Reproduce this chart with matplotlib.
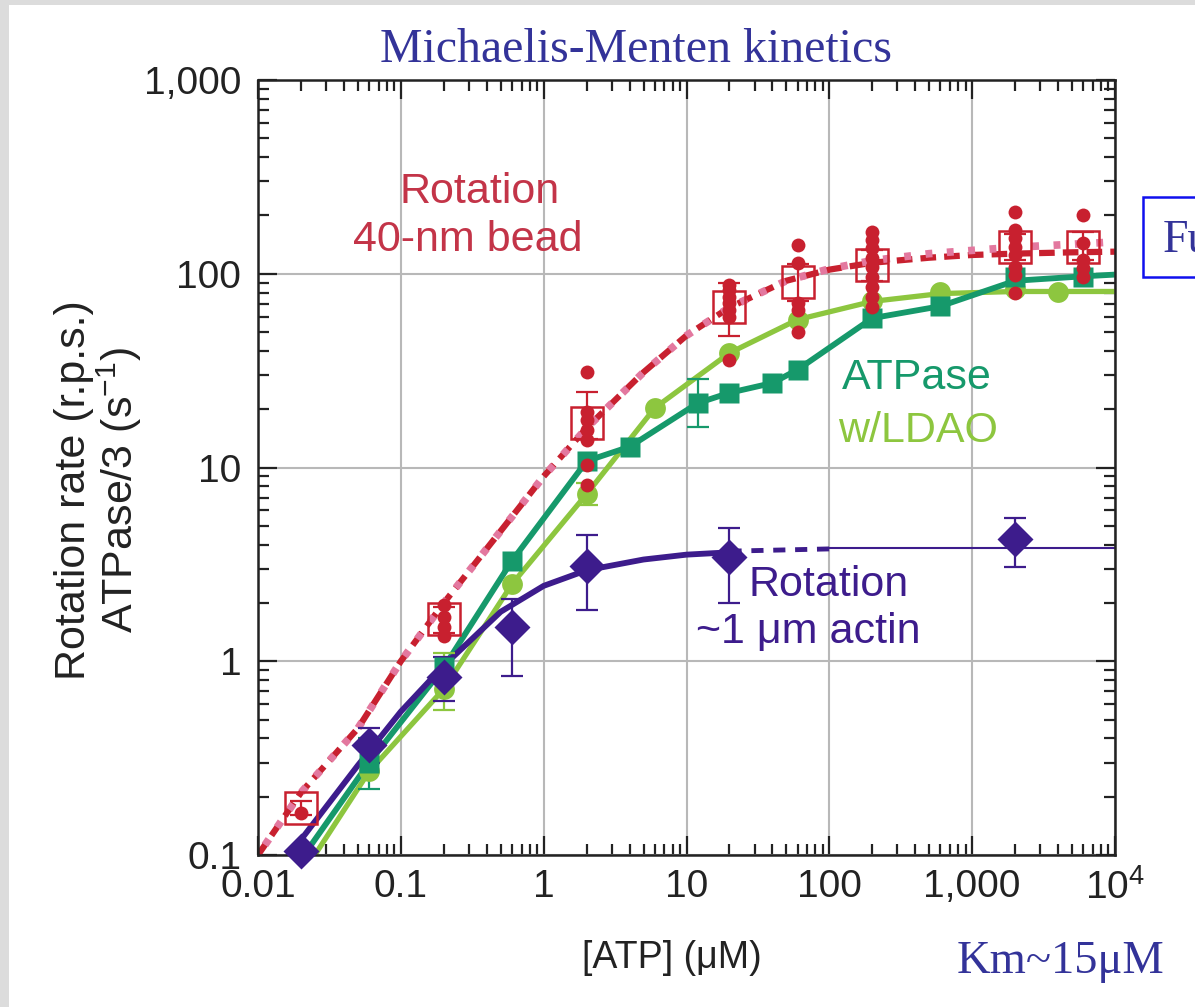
import matplotlib
matplotlib.use("Agg")
import matplotlib.pyplot as plt
from matplotlib.patches import Rectangle
from matplotlib.ticker import LogLocator, FixedLocator, FixedFormatter, NullFormatter

plt.rcParams["font.family"] = ["Liberation Sans", "DejaVu Sans"]
plt.rcParams["mathtext.fontset"] = "custom"
plt.rcParams["mathtext.rm"] = "Liberation Sans"
plt.rcParams["mathtext.default"] = "regular"

# ---- data ----
# rotation of 40-nm bead: individual runs (dots) and means (open squares)
bead_conc = [0.02, 0.2, 2, 20, 60, 200, 2000, 6000]
bead_mean = [0.175, 1.65, 17, 67, 91, 111, 137, 137]
bead_err_lo = [0.16, 1.4, 14, 48, 72, 92, 118, 118]
bead_err_hi = [0.19, 1.9, 24.5, 90, 112, 132, 160, 165]
bead_runs = [
    [0.165],
    [1.95, 1.7, 1.5, 1.35],
    [31, 19.3, 17.6, 15.6, 13.9, 10.3, 8.1],
    [87, 82, 76, 71, 65, 60, 36],
    [141, 113, 71, 65, 50],
    [164, 149, 136, 121, 108, 96, 85, 76, 67],
    [208, 168, 153, 137, 125, 108, 99, 80],
    [201, 144, 118, 107, 96],
]
bead_fit_x = [0.01, 0.02, 0.05, 0.1, 0.2, 0.5, 1, 2, 5, 10, 20, 50, 100, 200, 500, 1000, 2000, 5000, 10000]
bead_fit_y = [0.1, 0.21, 0.45, 1.0, 2.0, 4.7, 9.0, 16, 31, 48, 67, 92, 105, 114, 121, 125, 127, 129, 130]
bead_fit2_y = [0.1, 0.21, 0.45, 1.0, 2.0, 4.7, 9.0, 16, 31, 48, 67, 92, 106, 117, 127, 132, 137, 142, 146]

# ATPase
atp_conc = [0.06, 0.2, 0.6, 2, 4, 12, 20, 40, 60, 200, 600, 2000, 6000]
atp_rate = [0.3, 0.93, 3.3, 10.8, 12.8, 21.5, 24.3, 27.3, 32, 59, 68, 96, 96]
atp_line_x = [0.02, 0.06, 0.2, 0.6, 2, 4, 12, 20, 40, 60, 200, 600, 2000, 6000, 10000]
atp_line_y = [0.095, 0.3, 0.93, 3.3, 10.8, 12.8, 21.5, 24.3, 27.3, 32, 59, 68, 92, 97, 99]
atp_err_conc = [0.06, 12]
atp_err_mid = [0.3, 21.5]
atp_err_lo = [0.22, 16.2]
atp_err_hi = [0.4, 28.5]

# ATPase with LDAO
ldao_conc = [0.06, 0.2, 0.6, 2, 6, 20, 60, 200, 600, 2000, 4000]
ldao_rate = [0.27, 0.72, 2.5, 7.3, 20.3, 39, 58, 72, 80.5, 83, 80.5]
ldao_line_x = [0.025, 0.06, 0.2, 0.6, 2, 6, 20, 60, 200, 600, 2000, 4000, 10000]
ldao_line_y = [0.1, 0.27, 0.72, 2.5, 7.3, 20.3, 39, 58, 72, 79, 81, 81, 81]
ldao_err_conc = [0.2, 2]
ldao_err_mid = [0.72, 7.3]
ldao_err_lo = [0.56, 6.4]
ldao_err_hi = [1.1, 8.3]

# rotation of ~1 um actin filament
actin_conc = [0.02, 0.06, 0.2, 0.6, 2, 20, 2000]
actin_rate = [0.105, 0.37, 0.83, 1.5, 3.1, 3.45, 4.3]
actin_err_lo = [0.1, 0.3, 0.62, 0.84, 1.84, 2.0, 3.06]
actin_err_hi = [0.11, 0.45, 1.05, 2.1, 4.5, 4.9, 5.5]
actin_fit_x = [0.015, 0.02, 0.05, 0.1, 0.2, 0.5, 1, 2, 5, 10, 20]
actin_fit_y = [0.09, 0.12, 0.29, 0.55, 0.95, 1.8, 2.45, 2.95, 3.35, 3.55, 3.65]
actin_dash_x = [20, 100]
actin_dash_y = [3.7, 3.8]
actin_flat_x = [100, 10000]
actin_flat_y = [3.85, 3.85]

x_ticks = [0.01, 0.1, 1, 10, 100, 1000, 10000]
x_ticklabels = ["0.01", "0.1", "1", "10", "100", "1,000", "$10^4$"]
y_ticks = [0.1, 1, 10, 100, 1000]
y_ticklabels = ["0.1", "1", "10", "100", "1,000"]

RED = "#c8202f"
PINK = "#e3789f"
DGREEN = "#16996b"
LGREEN = "#8dc63f"
PURPLE = "#3d1c8c"
BLUE = "#333399"

W, H = 1195, 1007


def px(x, y):
    return x / W, 1 - y / H


def yerr(mid, lo, hi):
    return [[m - a for m, a in zip(mid, lo)], [b - m for m, b in zip(mid, hi)]]


fig = plt.figure(figsize=(W / 100, H / 100), dpi=100)
fig.patch.set_facecolor("#dcdcdc")
fig.add_artist(Rectangle((9 / W, 0), 1, 1 - 5 / H, transform=fig.transFigure,
                         facecolor="white", edgecolor="none", zorder=-10))

l, b = px(258, 855)
r, t = px(1115, 80)
ax = fig.add_axes([l, b, r - l, t - b])
ax.set_xscale("log")
ax.set_yscale("log")
ax.set_xlim(0.01, 10000)
ax.set_ylim(0.1, 1000)

# curves
ax.plot(bead_fit_x, bead_fit_y, color=RED, lw=4.5, ls=(0, (2.5, 1.3)), zorder=2)
ax.plot(bead_fit_x, bead_fit2_y, color=PINK, lw=5.5, ls=(1.2, (0.9, 1.9)), zorder=2.1)
ax.plot(ldao_line_x, ldao_line_y, color=LGREEN, lw=3.8, zorder=2)
ax.plot(atp_line_x, atp_line_y, color=DGREEN, lw=4.2, zorder=2.2)
ax.plot(actin_fit_x, actin_fit_y, color=PURPLE, lw=4.2, zorder=2.3)
ax.plot(actin_dash_x, actin_dash_y, color=PURPLE, lw=3.5, ls=(0, (2.5, 2)), zorder=2.3)
ax.plot(actin_flat_x, actin_flat_y, color=PURPLE, lw=1.5, zorder=2.3)

# error bars
eb = dict(fmt="none", elinewidth=1.6, capsize=8, capthick=1.6, zorder=3)
ax.errorbar(atp_err_conc, atp_err_mid, yerr=yerr(atp_err_mid, atp_err_lo, atp_err_hi),
            ecolor=DGREEN, **eb)
ax.errorbar(ldao_err_conc, ldao_err_mid, yerr=yerr(ldao_err_mid, ldao_err_lo, ldao_err_hi),
            ecolor=LGREEN, **eb)
ax.errorbar(actin_conc, actin_rate, yerr=yerr(actin_rate, actin_err_lo, actin_err_hi),
            ecolor=PURPLE, **eb)
ax.errorbar(bead_conc, bead_mean, yerr=yerr(bead_mean, bead_err_lo, bead_err_hi),
            ecolor=RED, **eb)

# markers
ax.plot(ldao_conc, ldao_rate, "o", color=LGREEN, ms=15, mec="none", zorder=4, clip_on=False)
ax.plot(atp_conc, atp_rate, "s", color=DGREEN, ms=15, mec="none", zorder=4.1, clip_on=False)
ax.plot(actin_conc, actin_rate, "D", color=PURPLE, ms=18, mec="none", zorder=4.2, clip_on=False)
ax.plot(bead_conc, bead_mean, "s", mfc="none", mec=RED, mew=1.8, ms=23, zorder=5)
for c, runs in zip(bead_conc, bead_runs):
    ax.plot([c] * len(runs), runs, "o", color=RED, ms=10, mec="none", zorder=6)

# axes styling
ax.xaxis.set_major_locator(FixedLocator(x_ticks))
ax.xaxis.set_major_formatter(FixedFormatter(x_ticklabels))
ax.yaxis.set_major_locator(FixedLocator(y_ticks))
ax.yaxis.set_major_formatter(FixedFormatter(y_ticklabels))
ax.xaxis.set_minor_locator(LogLocator(base=10, subs=range(2, 10), numticks=20))
ax.yaxis.set_minor_locator(LogLocator(base=10, subs=range(2, 10), numticks=20))
ax.xaxis.set_minor_formatter(NullFormatter())
ax.yaxis.set_minor_formatter(NullFormatter())
ax.tick_params(which="both", direction="in", top=True, right=True, width=1.6, color="#222222")
ax.tick_params(which="major", length=14, labelsize=28, labelcolor="#222222")
ax.tick_params(axis="x", which="major", pad=10)
ax.tick_params(axis="y", which="major", pad=12)
ax.tick_params(which="minor", length=8)
ax.grid(True, which="major", color="#b8b8b8", lw=1.5)
ax.set_axisbelow(True)
for s in ax.spines.values():
    s.set_linewidth(1.8)
    s.set_color("#222222")

# axis labels
fig.text(*px(99, 490), "Rotation rate (r.p.s.)\nATPase/3 (s$^{-1}$)", rotation=90,
         ha="center", va="center", multialignment="center", fontsize=31, linespacing=1.0,
         color="#222222")
fig.text(*px(672, 958), "[ATP] (\u03bcM)", ha="center", va="center", fontsize=27,
         color="#222222")

# in-plot labels
txt = dict(ha="center", va="center", fontsize=31)
fig.text(*px(480, 192), "Rotation", color="#c33448", **txt)
fig.text(*px(468, 240), "40-nm bead", color="#c33448", **txt)
fig.text(*px(917, 378), "ATPase", color=DGREEN, **txt)
fig.text(*px(918, 431), "w/LDAO", color=LGREEN, **txt)
fig.text(*px(829, 585), "Rotation", color=PURPLE, **txt)
fig.text(*px(808, 632), "~1 \u03bcm actin", color=PURPLE, **txt)

# slide texts
fig.text(*px(636, 62), "Michaelis-Menten kinetics", ha="center", va="baseline",
         fontsize=34.5, family="Liberation Serif", color=BLUE)
fig.text(*px(957, 973), "Km~15\u03bcM", ha="left", va="baseline",
         fontsize=33.5, family="Liberation Serif", color=BLUE)
bx, by = px(1143, 277)
fig.add_artist(Rectangle((bx, by), 120 / W, 80 / H, transform=fig.transFigure,
                         facecolor="white", edgecolor="#1010ee", lw=1.8))
fig.text(*px(1163, 252), "Fu", ha="left", va="baseline",
         fontsize=33, family="Liberation Serif", color=BLUE)

fig.savefig("out.png", dpi=100, facecolor=fig.get_facecolor())
